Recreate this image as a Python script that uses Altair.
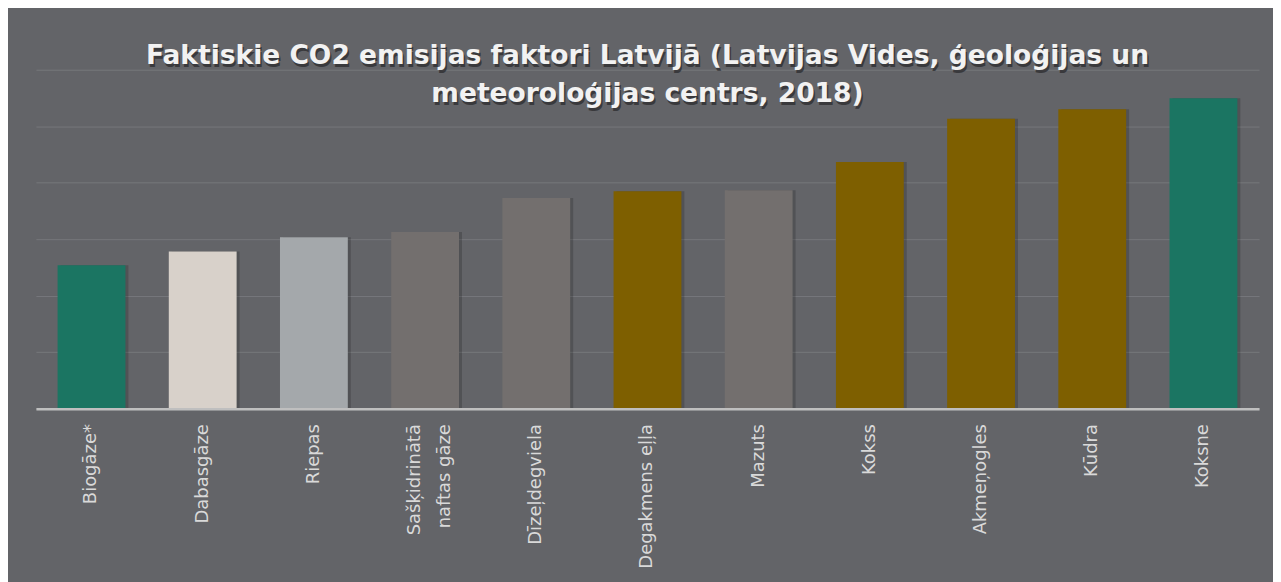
import altair as alt
import pandas as pd

categories = ["Biogāze*", "Dabasgāze", "Riepas", "Sašķidrinātā naftas gāze",
              "Dīzeļdegviela", "Degakmens eļļa", "Mazuts", "Kokss",
              "Akmeņogles", "Kūdra", "Koksne"]
values = [50.8, 55.6, 60.7, 62.5, 74.6, 77.0, 77.3, 87.3, 102.6, 106.0, 109.9]
colors = ["#1b7562", "#d8d1ca", "#a4a8ab", "#736f6e", "#736f6e", "#7e5f00",
          "#736f6e", "#7e5f00", "#7e5f00", "#7e5f00", "#1b7562"]

title_lines = ["Faktiskie CO2 emisijas faktori Latvijā (Latvijas Vides, ģeoloģijas un",
               "meteoroloģijas centrs, 2018)"]

df = pd.DataFrame({"kat": categories, "val": values, "col": colors})
title_df = pd.DataFrame({"n": [0]})

label_expr = ("datum.label == 'Sašķidrinātā naftas gāze' ? "
              "['Sašķidrinātā', 'naftas gāze'] : datum.label")
offset_expr = "datum.value == 'Sašķidrinātā naftas gāze' ? -10 : 0"

PLOT_W = 1227
PLOT_H = 340

base = alt.Chart(df)

shadow = base.mark_bar(color="#000000", opacity=0.18, xOffset=3).encode(
    x=alt.X("kat:N", sort=categories),
    y=alt.Y("val:Q"),
)

bars = base.mark_bar().encode(
    x=alt.X("kat:N", sort=categories, title=None,
            scale=alt.Scale(paddingInner=0.39, paddingOuter=0.195),
            axis=alt.Axis(labelAngle=-90, labelFont="DejaVu Sans", labelFontSize=18,
                          labelColor="#d9d9d9", ticks=False, tickSize=0,
                          labelPadding=15, domainColor="#bfbfbf", domainWidth=2.5,
                          labelExpr=label_expr, labelLineHeight=30, zindex=1,
                          labelOffset={"expr": offset_expr})),
    y=alt.Y("val:Q", title=None,
            scale=alt.Scale(domain=[0, 120]),
            axis=alt.Axis(values=[0, 20, 40, 60, 80, 100, 120], labels=False,
                          ticks=False, domain=False, gridColor="#76777b",
                          gridWidth=1)),
    color=alt.Color("col:N", scale=None, legend=None),
)

title_shadow = alt.Chart(title_df).mark_text(
    text=title_lines, font="DejaVu Sans", fontSize=26.6, fontWeight="bold",
    color="#2b2b2e", opacity=0.75, align="center", baseline="alphabetic",
    lineHeight=38, dx=1.5, dy=2.5, clip=False,
).encode(x=alt.value(PLOT_W / 2), y=alt.value(-5.5))

title_text = alt.Chart(title_df).mark_text(
    text=title_lines, font="DejaVu Sans", fontSize=26.6, fontWeight="bold",
    color="#f2f2f2", align="center", baseline="alphabetic",
    lineHeight=38, clip=False,
).encode(x=alt.value(PLOT_W / 2), y=alt.value(-5.5))

chart = alt.layer(shadow, bars, title_shadow, title_text).properties(
    width=PLOT_W,
    height=PLOT_H,
    background="#636468",
    padding={"left": 28, "top": 61, "right": 14, "bottom": 175},
    autosize=alt.AutoSizeParams(type="none"),
).configure_view(stroke=None)

chart.save("out.html", embed_options={"renderer": "svg", "actions": False})
